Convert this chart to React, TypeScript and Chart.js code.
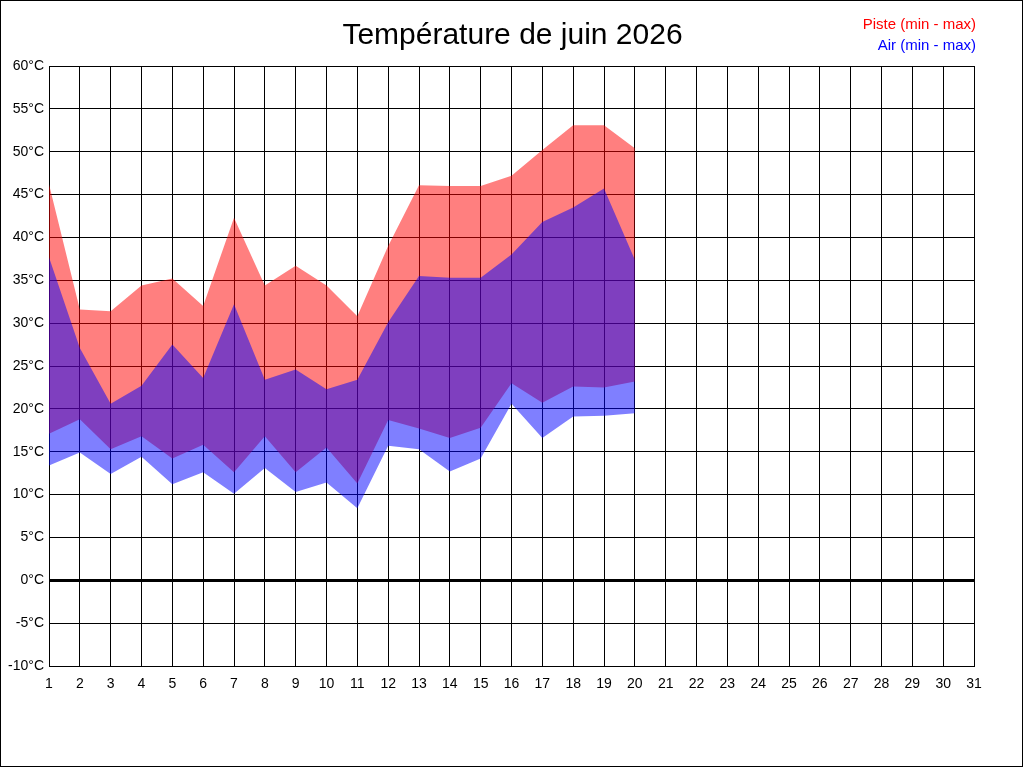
import React, { useEffect, useRef } from 'react';
import { Chart, registerables } from 'chart.js';

Chart.register(...registerables);

const days = [1, 2, 3, 4, 5, 6, 7, 8, 9, 10, 11, 12, 13, 14, 15, 16, 17, 18, 19, 20];
const pisteMax = [46.2, 31.6, 31.4, 34.4, 35.2, 32.0, 42.3, 34.4, 36.7, 34.4, 30.8, 39.0, 46.1, 46.0, 46.0, 47.2, 50.2, 53.1, 53.1, 50.4];
const pisteMin = [17.1, 18.8, 15.3, 16.8, 14.2, 15.8, 12.6, 16.8, 12.6, 15.5, 11.3, 18.7, 17.7, 16.6, 17.8, 23.0, 20.7, 22.6, 22.5, 23.2];
const airMax = [37.7, 27.1, 20.6, 22.7, 27.5, 23.6, 32.2, 23.4, 24.6, 22.3, 23.4, 30.1, 35.5, 35.3, 35.3, 38.0, 41.8, 43.5, 45.7, 37.4];
const airMin = [13.4, 14.9, 12.4, 14.4, 11.2, 12.6, 10.1, 13.1, 10.3, 11.4, 8.4, 15.7, 15.3, 12.7, 14.2, 20.6, 16.6, 19.1, 19.2, 19.5];

const title = 'Température de juin 2026';
const legendItems = [
  { text: 'Piste (min - max)', color: '#ff0000' },
  { text: 'Air (min - max)', color: '#0000ff' },
];

const FONT = "'Liberation Sans', Arial, sans-serif";

const toPoints = (values: number[]) => values.map((v, i) => ({ x: days[i], y: v }));

// white page, outer frame, title centred on the page and the legend top right
const framePlugin = {
  id: 'frame',
  beforeDraw(chart: Chart) {
    const { ctx, width, height } = chart;
    ctx.save();
    ctx.fillStyle = '#ffffff';
    ctx.fillRect(0, 0, width, height);
    ctx.restore();
  },
  afterDraw(chart: Chart) {
    const { ctx } = chart;
    ctx.save();
    ctx.strokeStyle = '#000000';
    ctx.lineWidth = 1;
    ctx.strokeRect(0.5, 0.5, 1022, 766);

    ctx.fillStyle = '#000000';
    ctx.font = `30px ${FONT}`;
    ctx.textAlign = 'center';
    ctx.textBaseline = 'alphabetic';
    ctx.fillText(title, 512.5, 44);

    ctx.font = `15px ${FONT}`;
    ctx.textAlign = 'right';
    legendItems.forEach((item, i) => {
      ctx.fillStyle = item.color;
      ctx.fillText(item.text, 976, 29 + i * 21);
    });
    ctx.restore();
  },
};

const App: React.FC = () => {
  const chartRef = useRef<HTMLCanvasElement>(null);

  useEffect(() => {
    if (!chartRef.current) return;
    const ctx = chartRef.current.getContext('2d');
    if (!ctx) return;

    const area = {
      borderColor: 'rgba(0,0,0,0)',
      borderWidth: 0,
      pointRadius: 0,
      tension: 0,
    };

    const myChart = new Chart(ctx, {
      type: 'line',
      data: {
        datasets: [
          { ...area, label: 'Air max', data: toPoints(airMax), fill: '+1', backgroundColor: 'rgba(0,0,255,0.5)' },
          { ...area, label: 'Air min', data: toPoints(airMin), fill: false },
          { ...area, label: 'Piste max', data: toPoints(pisteMax), fill: '+1', backgroundColor: 'rgba(255,0,0,0.5)' },
          { ...area, label: 'Piste min', data: toPoints(pisteMin), fill: false },
        ],
      },
      options: {
        responsive: false,
        animation: false,
        devicePixelRatio: 1,
        layout: { padding: { left: 0, right: 50, top: 66, bottom: 0 } },
        plugins: {
          legend: { display: false },
          tooltip: { enabled: false },
          title: { display: false },
        },
        scales: {
          x: {
            type: 'linear',
            min: 1,
            max: 31,
            afterFit: (scale: any) => {
              scale.height = 102;
            },
            ticks: {
              stepSize: 1,
              autoSkip: false,
              maxRotation: 0,
              padding: 10,
              color: '#000000',
              font: { family: FONT, size: 14 },
            },
            grid: { color: '#000000', lineWidth: 1, drawTicks: false },
            border: { color: '#000000', width: 1 },
          },
          y: {
            type: 'linear',
            min: -10,
            max: 60,
            afterFit: (scale: any) => {
              scale.width = 49;
            },
            ticks: {
              stepSize: 5,
              padding: 5,
              color: '#000000',
              font: { family: FONT, size: 14 },
              callback: (v: any) => `${v}°C`,
            },
            grid: {
              color: '#000000',
              drawTicks: false,
              lineWidth: (c: any) => (c.tick && c.tick.value === 0 ? 3 : 1),
            },
            border: { color: '#000000', width: 1 },
          },
        },
      },
      plugins: [framePlugin],
    });

    return () => {
      myChart.destroy();
    };
  }, []);

  return (
    <div style={{ position: 'absolute', left: 0, top: 0, width: 1024, height: 768 }}>
      <canvas ref={chartRef} width={1024} height={768} />
    </div>
  );
};

export default App;
